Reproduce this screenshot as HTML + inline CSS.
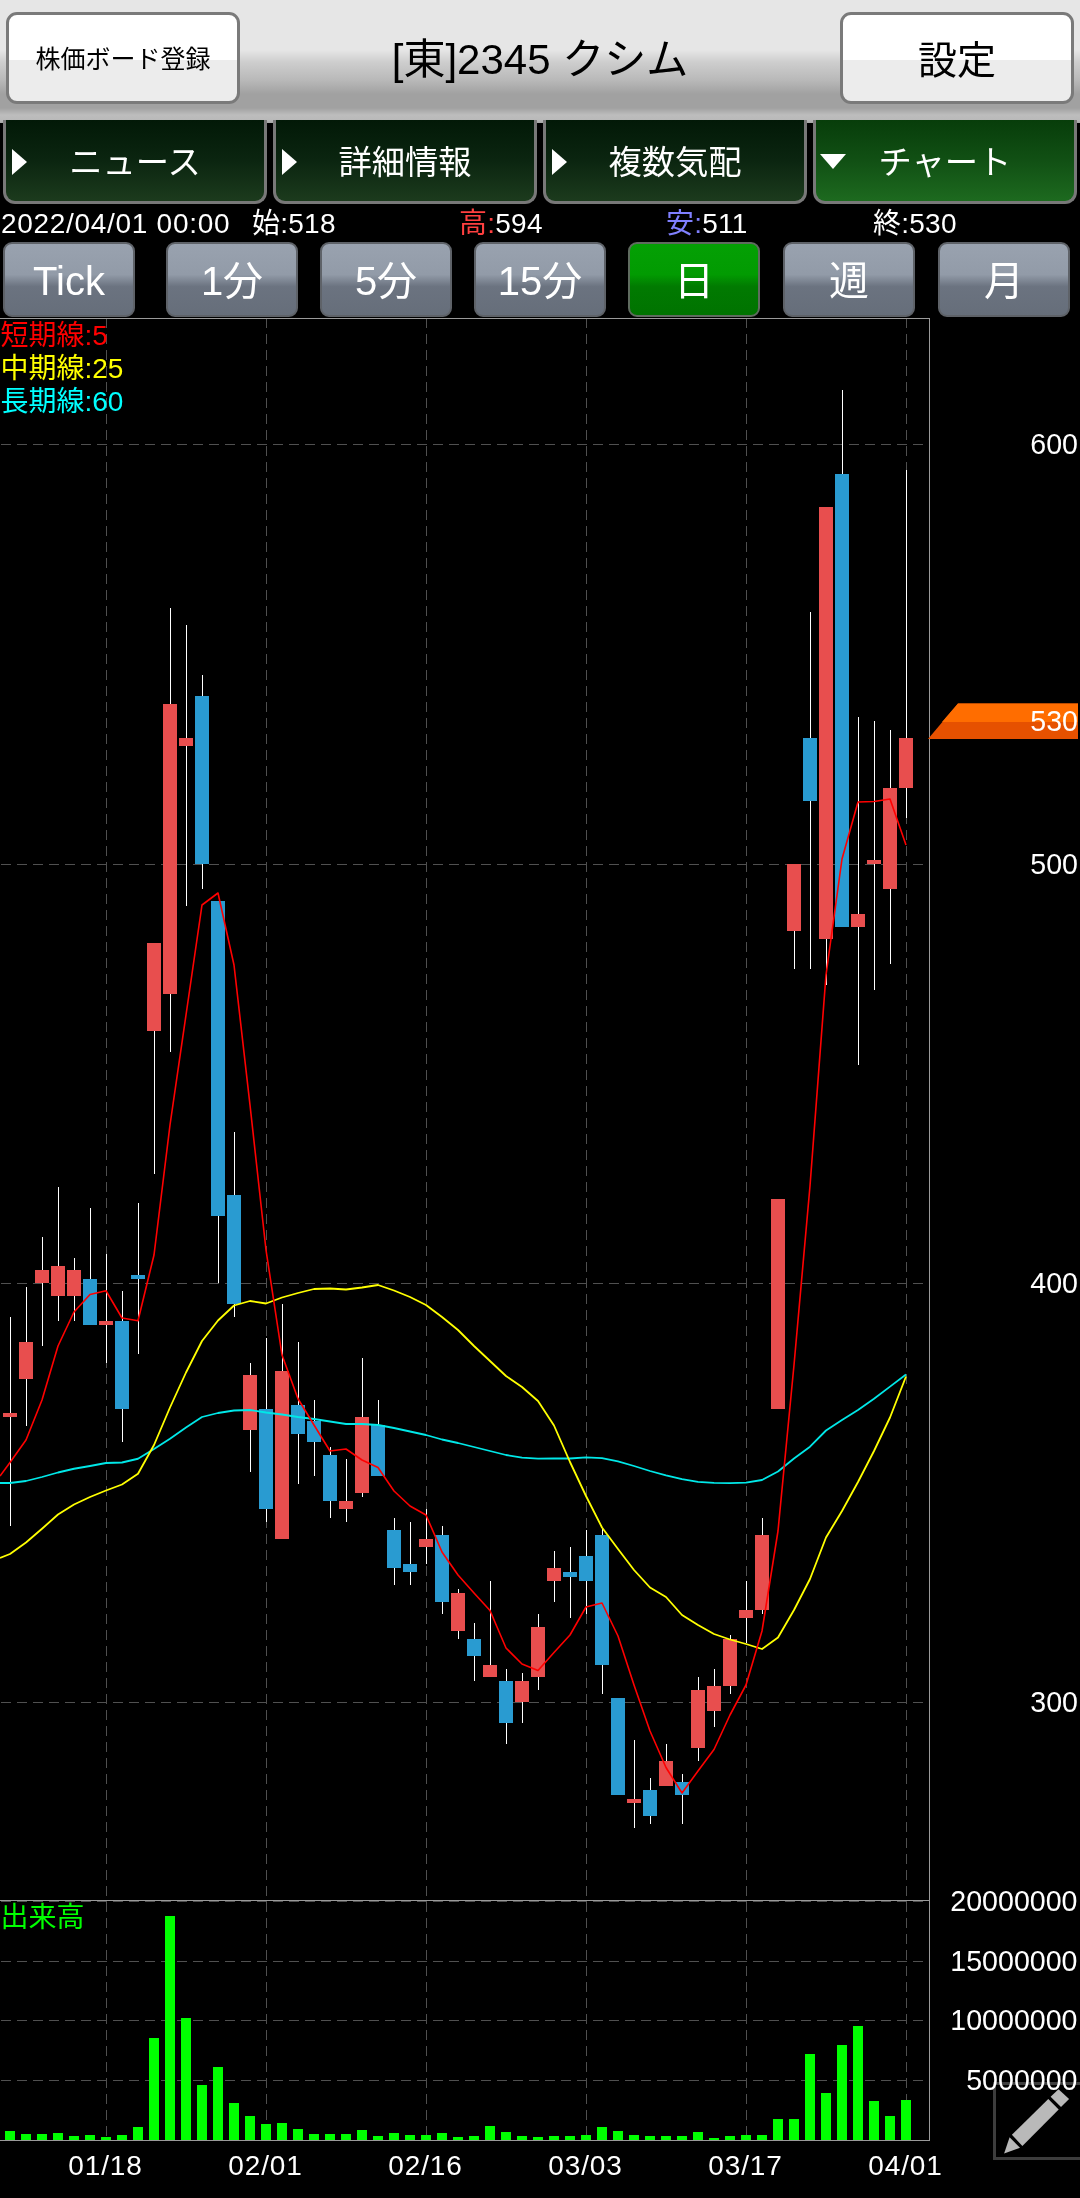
<!DOCTYPE html>
<html lang="ja"><head><meta charset="utf-8"><title>チャート</title>
<style>
*{box-sizing:border-box;margin:0;padding:0}
html,body{width:1080px;height:2198px;background:#000;overflow:hidden}
body{position:relative;will-change:transform;font-family:"Liberation Sans","Noto Sans CJK JP",sans-serif;color:#fff}
.hdr{position:absolute;left:0;top:0;width:1080px;height:123px;
 background:linear-gradient(to bottom,#e6e6e6 0,#e6e6e6 50px,#cecece 62px,#b9b9b9 80px,#a1a1a1 94px,#a1a1a1 108px,#bdbdbd 115px,#b9b9b9 120px,#a8a8a8 123px)}
.hbtn{position:absolute;top:12px;height:92px;border:3px solid #7a7a7a;border-radius:11px;color:#000;
 background:linear-gradient(to bottom,#fff 0,#fff 45px,#ececec 45px,#ececec 100%);display:flex;align-items:center;justify-content:center;padding-bottom:2px}
.b1{left:6px;width:234px;font-size:25px}
.b2{left:840px;width:234px;font-size:39px}
.title{position:absolute;left:0;top:0;width:1080px;height:120px;line-height:120px;text-align:center;color:#000;font-size:42px}
.tab{position:absolute;top:120px;height:84px;width:264px;border:3px solid #787878;border-top:none;border-radius:0 0 12px 12px;
 background:linear-gradient(to bottom,#021907 0,#0b2510 50%,#1c3b1d 100%);font-size:33.3px;line-height:86px;text-align:center;padding-left:0}
.tab.on{background:linear-gradient(to bottom,#073d0a 0,#115014 50%,#1d6a1f 100%)}
.tab i{position:absolute;left:6px;top:29px;width:0;height:0;border-left:15px solid #fff;border-top:13px solid transparent;border-bottom:13px solid transparent}
.tab.on i{left:4px;top:34px;border-left:13px solid transparent;border-right:13px solid transparent;border-top:15px solid #fff;border-bottom:none}
.info{position:absolute;top:205px;height:38px;line-height:38px;font-size:28px;white-space:nowrap;letter-spacing:0.25px}
.pb{position:absolute;top:242px;height:75px;width:132px;border:2px solid #5e6268;border-radius:9px;
 background:linear-gradient(to bottom,#99a2af 0,#929ba8 43%,#6b7380 60%,#666e7a 100%);font-size:40px;line-height:74px;text-align:center}
.pb.on{background:linear-gradient(to bottom,#04a004 0,#029b02 43%,#017a01 60%,#007300 100%);border-color:#5f6b5f}
.chart{position:absolute;left:0;top:318px;font-family:"Liberation Sans","Noto Sans CJK JP",sans-serif}
</style></head><body>
<div class="hdr"></div>
<div class="title">[東]2345 クシム</div>
<div class="hbtn b1">株価ボード登録</div>
<div class="hbtn b2">設定</div>
<div class="tab" style="left:3px"><i></i>ニュース</div>
<div class="tab" style="left:273px"><i></i>詳細情報</div>
<div class="tab" style="left:543px"><i></i>複数気配</div>
<div class="tab on" style="left:813px"><i></i>チャート</div>
<div class="info" style="left:1px;letter-spacing:0.7px">2022/04/01 00:00</div>
<div class="info" style="left:252px">始:518</div>
<div class="info" style="left:459px"><span style="color:#ff4040">高:</span>594</div>
<div class="info" style="left:666px"><span style="color:#8080ff">安:</span>511</div>
<div class="info" style="left:873px">終:530</div>
<div class="pb" style="left:3px">Tick</div>
<div class="pb" style="left:166px">1分</div>
<div class="pb" style="left:320px">5分</div>
<div class="pb" style="left:474px">15分</div>
<div class="pb on" style="left:628px">日</div>
<div class="pb" style="left:783px">週</div>
<div class="pb" style="left:938px">月</div>
<svg class="chart" width="1080" height="1880" viewBox="0 0 1080 1880">
<g shape-rendering="crispEdges">
<line x1="106.5" y1="0" x2="106.5" y2="1822" stroke="#505050" stroke-dasharray="10 6"/>
<line x1="266.5" y1="0" x2="266.5" y2="1822" stroke="#505050" stroke-dasharray="10 6"/>
<line x1="426.5" y1="0" x2="426.5" y2="1822" stroke="#505050" stroke-dasharray="10 6"/>
<line x1="586.5" y1="0" x2="586.5" y2="1822" stroke="#505050" stroke-dasharray="10 6"/>
<line x1="746.5" y1="0" x2="746.5" y2="1822" stroke="#505050" stroke-dasharray="10 6"/>
<line x1="906.5" y1="0" x2="906.5" y2="1822" stroke="#505050" stroke-dasharray="10 6"/>
<line x1="1" y1="126.5" x2="923" y2="126.5" stroke="#505050" stroke-dasharray="10 6"/>
<line x1="1" y1="546.5" x2="923" y2="546.5" stroke="#505050" stroke-dasharray="10 6"/>
<line x1="1" y1="965.5" x2="923" y2="965.5" stroke="#505050" stroke-dasharray="10 6"/>
<line x1="1" y1="1384.5" x2="923" y2="1384.5" stroke="#505050" stroke-dasharray="10 6"/>
<line x1="1" y1="1583.5" x2="923" y2="1583.5" stroke="#505050" stroke-dasharray="10 6"/>
<line x1="1" y1="1643.5" x2="923" y2="1643.5" stroke="#505050" stroke-dasharray="10 6"/>
<line x1="1" y1="1702.5" x2="923" y2="1702.5" stroke="#505050" stroke-dasharray="10 6"/>
<line x1="1" y1="1762.5" x2="923" y2="1762.5" stroke="#505050" stroke-dasharray="10 6"/>
<line x1="0" y1="0.5" x2="930" y2="0.5" stroke="#9a9a9a"/>
<line x1="929.5" y1="0" x2="929.5" y2="1823" stroke="#9a9a9a"/>
<line x1="0" y1="1582.5" x2="930" y2="1582.5" stroke="#9a9a9a"/>
<line x1="0" y1="1822.5" x2="930" y2="1822.5" stroke="#9a9a9a"/>
<rect x="10" y="999" width="1" height="209" fill="#fff"/>
<rect x="26" y="969" width="1" height="139" fill="#fff"/>
<rect x="42" y="919" width="1" height="109" fill="#fff"/>
<rect x="58" y="869" width="1" height="134" fill="#fff"/>
<rect x="74" y="940" width="1" height="63" fill="#fff"/>
<rect x="90" y="890" width="1" height="117" fill="#fff"/>
<rect x="106" y="936" width="1" height="109" fill="#fff"/>
<rect x="122" y="973" width="1" height="151" fill="#fff"/>
<rect x="138" y="885" width="1" height="151" fill="#fff"/>
<rect x="154" y="625" width="1" height="231" fill="#fff"/>
<rect x="170" y="290" width="1" height="444" fill="#fff"/>
<rect x="186" y="307" width="1" height="281" fill="#fff"/>
<rect x="202" y="357" width="1" height="214" fill="#fff"/>
<rect x="218" y="583" width="1" height="382" fill="#fff"/>
<rect x="234" y="814" width="1" height="185" fill="#fff"/>
<rect x="250" y="1045" width="1" height="109" fill="#fff"/>
<rect x="266" y="1020" width="1" height="184" fill="#fff"/>
<rect x="282" y="986" width="1" height="235" fill="#fff"/>
<rect x="298" y="1024" width="1" height="142" fill="#fff"/>
<rect x="314" y="1082" width="1" height="76" fill="#fff"/>
<rect x="330" y="1129" width="1" height="71" fill="#fff"/>
<rect x="346" y="1141" width="1" height="63" fill="#fff"/>
<rect x="362" y="1040" width="1" height="139" fill="#fff"/>
<rect x="378" y="1082" width="1" height="76" fill="#fff"/>
<rect x="394" y="1200" width="1" height="67" fill="#fff"/>
<rect x="410" y="1204" width="1" height="63" fill="#fff"/>
<rect x="426" y="1191" width="1" height="55" fill="#fff"/>
<rect x="442" y="1208" width="1" height="88" fill="#fff"/>
<rect x="458" y="1271" width="1" height="50" fill="#fff"/>
<rect x="474" y="1305" width="1" height="58" fill="#fff"/>
<rect x="490" y="1263" width="1" height="96" fill="#fff"/>
<rect x="506" y="1351" width="1" height="75" fill="#fff"/>
<rect x="522" y="1355" width="1" height="50" fill="#fff"/>
<rect x="538" y="1296" width="1" height="76" fill="#fff"/>
<rect x="554" y="1233" width="1" height="51" fill="#fff"/>
<rect x="570" y="1229" width="1" height="71" fill="#fff"/>
<rect x="586" y="1212" width="1" height="84" fill="#fff"/>
<rect x="602" y="1211" width="1" height="165" fill="#fff"/>
<rect x="618" y="1380" width="1" height="97" fill="#fff"/>
<rect x="634" y="1422" width="1" height="88" fill="#fff"/>
<rect x="650" y="1460" width="1" height="46" fill="#fff"/>
<rect x="666" y="1426" width="1" height="42" fill="#fff"/>
<rect x="682" y="1456" width="1" height="50" fill="#fff"/>
<rect x="698" y="1359" width="1" height="84" fill="#fff"/>
<rect x="714" y="1351" width="1" height="58" fill="#fff"/>
<rect x="730" y="1317" width="1" height="59" fill="#fff"/>
<rect x="746" y="1263" width="1" height="62" fill="#fff"/>
<rect x="762" y="1200" width="1" height="96" fill="#fff"/>
<rect x="778" y="881" width="1" height="210" fill="#fff"/>
<rect x="794" y="546" width="1" height="105" fill="#fff"/>
<rect x="810" y="294" width="1" height="357" fill="#fff"/>
<rect x="826" y="189" width="1" height="478" fill="#fff"/>
<rect x="842" y="72" width="1" height="537" fill="#fff"/>
<rect x="858" y="399" width="1" height="348" fill="#fff"/>
<rect x="874" y="403" width="1" height="269" fill="#fff"/>
<rect x="890" y="412" width="1" height="234" fill="#fff"/>
<rect x="906" y="152" width="1" height="348" fill="#fff"/>
<rect x="3" y="1095" width="14" height="4" fill="#e84e4e"/>
<rect x="19" y="1024" width="14" height="37" fill="#e84e4e"/>
<rect x="35" y="952" width="14" height="13" fill="#e84e4e"/>
<rect x="51" y="948" width="14" height="30" fill="#e84e4e"/>
<rect x="67" y="952" width="14" height="26" fill="#e84e4e"/>
<rect x="83" y="961" width="14" height="46" fill="#299bd1"/>
<rect x="99" y="1003" width="14" height="4" fill="#e84e4e"/>
<rect x="115" y="1003" width="14" height="88" fill="#299bd1"/>
<rect x="131" y="957" width="14" height="4" fill="#299bd1"/>
<rect x="147" y="625" width="14" height="88" fill="#e84e4e"/>
<rect x="163" y="386" width="14" height="290" fill="#e84e4e"/>
<rect x="179" y="420" width="14" height="8" fill="#e84e4e"/>
<rect x="195" y="378" width="14" height="168" fill="#299bd1"/>
<rect x="211" y="583" width="14" height="315" fill="#299bd1"/>
<rect x="227" y="877" width="14" height="109" fill="#299bd1"/>
<rect x="243" y="1057" width="14" height="55" fill="#e84e4e"/>
<rect x="259" y="1091" width="14" height="100" fill="#299bd1"/>
<rect x="275" y="1053" width="14" height="168" fill="#e84e4e"/>
<rect x="291" y="1087" width="14" height="29" fill="#299bd1"/>
<rect x="307" y="1103" width="14" height="21" fill="#299bd1"/>
<rect x="323" y="1137" width="14" height="46" fill="#299bd1"/>
<rect x="339" y="1183" width="14" height="8" fill="#e84e4e"/>
<rect x="355" y="1099" width="14" height="76" fill="#e84e4e"/>
<rect x="371" y="1107" width="14" height="51" fill="#299bd1"/>
<rect x="387" y="1212" width="14" height="38" fill="#299bd1"/>
<rect x="403" y="1246" width="14" height="8" fill="#299bd1"/>
<rect x="419" y="1221" width="14" height="8" fill="#e84e4e"/>
<rect x="435" y="1217" width="14" height="67" fill="#299bd1"/>
<rect x="451" y="1275" width="14" height="38" fill="#e84e4e"/>
<rect x="467" y="1321" width="14" height="17" fill="#299bd1"/>
<rect x="483" y="1347" width="14" height="12" fill="#e84e4e"/>
<rect x="499" y="1363" width="14" height="42" fill="#299bd1"/>
<rect x="515" y="1363" width="14" height="21" fill="#e84e4e"/>
<rect x="531" y="1309" width="14" height="50" fill="#e84e4e"/>
<rect x="547" y="1250" width="14" height="13" fill="#e84e4e"/>
<rect x="563" y="1254" width="14" height="5" fill="#299bd1"/>
<rect x="579" y="1238" width="14" height="25" fill="#299bd1"/>
<rect x="595" y="1217" width="14" height="130" fill="#299bd1"/>
<rect x="611" y="1380" width="14" height="97" fill="#299bd1"/>
<rect x="627" y="1481" width="14" height="4" fill="#e84e4e"/>
<rect x="643" y="1472" width="14" height="26" fill="#299bd1"/>
<rect x="659" y="1443" width="14" height="25" fill="#e84e4e"/>
<rect x="675" y="1464" width="14" height="13" fill="#299bd1"/>
<rect x="691" y="1372" width="14" height="58" fill="#e84e4e"/>
<rect x="707" y="1368" width="14" height="25" fill="#e84e4e"/>
<rect x="723" y="1321" width="14" height="47" fill="#e84e4e"/>
<rect x="739" y="1292" width="14" height="8" fill="#e84e4e"/>
<rect x="755" y="1217" width="14" height="75" fill="#e84e4e"/>
<rect x="771" y="881" width="14" height="210" fill="#e84e4e"/>
<rect x="787" y="546" width="14" height="67" fill="#e84e4e"/>
<rect x="803" y="420" width="14" height="63" fill="#299bd1"/>
<rect x="819" y="189" width="14" height="432" fill="#e84e4e"/>
<rect x="835" y="156" width="14" height="453" fill="#299bd1"/>
<rect x="851" y="596" width="14" height="13" fill="#e84e4e"/>
<rect x="867" y="542" width="14" height="4" fill="#e84e4e"/>
<rect x="883" y="470" width="14" height="101" fill="#e84e4e"/>
<rect x="899" y="420" width="14" height="50" fill="#e84e4e"/>
<rect x="5" y="1813" width="10" height="9" fill="#00ff00"/>
<rect x="21" y="1816" width="10" height="6" fill="#00ff00"/>
<rect x="37" y="1816" width="10" height="6" fill="#00ff00"/>
<rect x="53" y="1815" width="10" height="7" fill="#00ff00"/>
<rect x="69" y="1818" width="10" height="4" fill="#00ff00"/>
<rect x="85" y="1817" width="10" height="5" fill="#00ff00"/>
<rect x="101" y="1819" width="10" height="3" fill="#00ff00"/>
<rect x="117" y="1817" width="10" height="5" fill="#00ff00"/>
<rect x="133" y="1809" width="10" height="13" fill="#00ff00"/>
<rect x="149" y="1720" width="10" height="102" fill="#00ff00"/>
<rect x="165" y="1598" width="10" height="224" fill="#00ff00"/>
<rect x="181" y="1700" width="10" height="122" fill="#00ff00"/>
<rect x="197" y="1767" width="10" height="55" fill="#00ff00"/>
<rect x="213" y="1749" width="10" height="73" fill="#00ff00"/>
<rect x="229" y="1785" width="10" height="37" fill="#00ff00"/>
<rect x="245" y="1798" width="10" height="24" fill="#00ff00"/>
<rect x="261" y="1806" width="10" height="16" fill="#00ff00"/>
<rect x="277" y="1805" width="10" height="17" fill="#00ff00"/>
<rect x="293" y="1811" width="10" height="11" fill="#00ff00"/>
<rect x="309" y="1816" width="10" height="6" fill="#00ff00"/>
<rect x="325" y="1816" width="10" height="6" fill="#00ff00"/>
<rect x="341" y="1816" width="10" height="6" fill="#00ff00"/>
<rect x="357" y="1812" width="10" height="10" fill="#00ff00"/>
<rect x="373" y="1818" width="10" height="4" fill="#00ff00"/>
<rect x="389" y="1815" width="10" height="7" fill="#00ff00"/>
<rect x="405" y="1817" width="10" height="5" fill="#00ff00"/>
<rect x="421" y="1817" width="10" height="5" fill="#00ff00"/>
<rect x="437" y="1815" width="10" height="7" fill="#00ff00"/>
<rect x="453" y="1819" width="10" height="3" fill="#00ff00"/>
<rect x="469" y="1818" width="10" height="4" fill="#00ff00"/>
<rect x="485" y="1808" width="10" height="14" fill="#00ff00"/>
<rect x="501" y="1814" width="10" height="8" fill="#00ff00"/>
<rect x="517" y="1818" width="10" height="4" fill="#00ff00"/>
<rect x="533" y="1819" width="10" height="3" fill="#00ff00"/>
<rect x="549" y="1818" width="10" height="4" fill="#00ff00"/>
<rect x="565" y="1818" width="10" height="4" fill="#00ff00"/>
<rect x="581" y="1817" width="10" height="5" fill="#00ff00"/>
<rect x="597" y="1809" width="10" height="13" fill="#00ff00"/>
<rect x="613" y="1813" width="10" height="9" fill="#00ff00"/>
<rect x="629" y="1817" width="10" height="5" fill="#00ff00"/>
<rect x="645" y="1818" width="10" height="4" fill="#00ff00"/>
<rect x="661" y="1818" width="10" height="4" fill="#00ff00"/>
<rect x="677" y="1818" width="10" height="4" fill="#00ff00"/>
<rect x="693" y="1814" width="10" height="8" fill="#00ff00"/>
<rect x="709" y="1820" width="10" height="2" fill="#00ff00"/>
<rect x="725" y="1818" width="10" height="4" fill="#00ff00"/>
<rect x="741" y="1817" width="10" height="5" fill="#00ff00"/>
<rect x="757" y="1817" width="10" height="5" fill="#00ff00"/>
<rect x="773" y="1801" width="10" height="21" fill="#00ff00"/>
<rect x="789" y="1801" width="10" height="21" fill="#00ff00"/>
<rect x="805" y="1736" width="10" height="86" fill="#00ff00"/>
<rect x="821" y="1775" width="10" height="47" fill="#00ff00"/>
<rect x="837" y="1727" width="10" height="95" fill="#00ff00"/>
<rect x="853" y="1708" width="10" height="114" fill="#00ff00"/>
<rect x="869" y="1783" width="10" height="39" fill="#00ff00"/>
<rect x="885" y="1798" width="10" height="24" fill="#00ff00"/>
<rect x="901" y="1782" width="10" height="40" fill="#00ff00"/>
</g>
<polyline points="0,1165 10,1165 26,1163 42,1159 58,1154.5 74,1150.75 90,1148 106,1145 122,1144.5 138,1140.75 154,1131 170,1120.75 186,1109.5 202,1099 218,1095 234,1092.5 250,1092 266,1094.5 282,1096.5 298,1099 314,1101 330,1103.5 346,1106 362,1106 378,1107 394,1110 410,1113.5 426,1117 442,1121.5 458,1125 474,1129 490,1133 506,1137 522,1139.7 538,1140.7 554,1140.5 570,1140.5 586,1139.4 602,1140.2 618,1143.3 634,1148 650,1153 666,1157.3 682,1161.2 698,1163.8 714,1164.9 730,1165.1 746,1164.6 762,1162 778,1153.5 794,1140.5 810,1128.7 826,1112.5 842,1102 858,1092 874,1080.8 890,1068.6 906,1056.5" fill="none" stroke="#00e8e8" stroke-width="1.8" stroke-linejoin="round"/>
<polyline points="0,1240 10,1236 26,1224.5 42,1210.75 58,1196.5 74,1186.5 90,1179 106,1172.5 122,1166.5 138,1155.75 154,1127 170,1089.5 186,1054.5 202,1023 218,1002.5 234,987.5 250,983 266,985.5 282,979.5 298,975 314,971 330,970.5 346,971.5 362,969.5 378,967 394,972.5 410,979 426,987 442,999 458,1012 474,1028 490,1043 506,1058 522,1069 538,1083 554,1107.5 570,1144 586,1178 602,1209.5 618,1231 634,1252 650,1269.5 666,1279 682,1297 698,1307 714,1316 730,1321.5 746,1326 762,1331 778,1319.5 794,1292 810,1261 826,1219.5 842,1193 858,1164 874,1133 890,1099.5 906,1058.5" fill="none" stroke="#ffff00" stroke-width="1.8" stroke-linejoin="round"/>
<polyline points="0,1158 10,1144.5 26,1122 42,1082 58,1028 74,994 90,976.5 106,972.75 122,1000 138,1002.75 154,937 170,807 186,697 202,587 218,575 234,647 250,787 266,932 282,1037 298,1080.75 314,1107 330,1133 346,1131 362,1142 378,1149.5 394,1173 410,1188 426,1197 442,1234 458,1257 474,1275 490,1292.5 506,1330 522,1346 538,1352.5 554,1334.5 570,1317 586,1289 602,1285 618,1318 634,1367 650,1413 666,1449.5 682,1475 698,1453 714,1431.5 730,1397 746,1367 762,1313 778,1213 794,1047 810,868 826,657 842,541 858,484 874,483.5 890,481 906,527" fill="none" stroke="#ff0000" stroke-width="1.6" stroke-linejoin="round"/>
<polygon points="928,421 958,385.5 1078,385.5 1078,421" fill="#e65100"/>
<polygon points="942,404 958,385.5 1078,385.5 1078,404" fill="#ff6d00"/>
<g transform="translate(993,1764)">
<rect x="1.5" y="1.5" width="92" height="75" fill="#000" stroke="#3d3d3d" stroke-width="3"/>
<g fill="#b9b9b9"><polygon points="11.1,71.5 16.6,55.3 27,65.8"/><polygon points="18.9,52.8 55.3,16.9 65.7,27.4 29.4,63.9"/><polygon points="57.6,14.8 65.5,7.2 76.1,17.1 68,25"/></g>
</g>
<text x="1078" y="135.7" text-anchor="end" fill="#fff" font-size="28.6">600</text>
<text x="1078" y="555.7" text-anchor="end" fill="#fff" font-size="28.6">500</text>
<text x="1078" y="974.7" text-anchor="end" fill="#fff" font-size="28.6">400</text>
<text x="1078" y="1393.7" text-anchor="end" fill="#fff" font-size="28.6">300</text>
<text x="1078" y="412.5" text-anchor="end" fill="#fff" font-size="28.6">530</text>
<text x="1077.5" y="1592.8" text-anchor="end" fill="#fff" font-size="28.6">20000000</text>
<text x="1077.5" y="1652.8" text-anchor="end" fill="#fff" font-size="28.6">15000000</text>
<text x="1077.5" y="1711.8" text-anchor="end" fill="#fff" font-size="28.6">10000000</text>
<text x="1077.5" y="1771.8000000000002" text-anchor="end" fill="#fff" font-size="28.6">5000000</text>
<text x="105.5" y="1856.5" text-anchor="middle" fill="#fff" font-size="28" letter-spacing="0.9">01/18</text>
<text x="265.5" y="1856.5" text-anchor="middle" fill="#fff" font-size="28" letter-spacing="0.9">02/01</text>
<text x="425.5" y="1856.5" text-anchor="middle" fill="#fff" font-size="28" letter-spacing="0.9">02/16</text>
<text x="585.5" y="1856.5" text-anchor="middle" fill="#fff" font-size="28" letter-spacing="0.9">03/03</text>
<text x="745.5" y="1856.5" text-anchor="middle" fill="#fff" font-size="28" letter-spacing="0.9">03/17</text>
<text x="905.5" y="1856.5" text-anchor="middle" fill="#fff" font-size="28" letter-spacing="0.9">04/01</text>
<text x="0.5" y="27" text-anchor="start" fill="#ff0000" font-size="28">短期線:5</text>
<text x="0.5" y="60" text-anchor="start" fill="#ffff00" font-size="28">中期線:25</text>
<text x="0.5" y="93" text-anchor="start" fill="#00ffff" font-size="28">長期線:60</text>
<text x="0.5" y="1609" text-anchor="start" fill="#00ff00" font-size="28">出来高</text>
</svg>
</body></html>
